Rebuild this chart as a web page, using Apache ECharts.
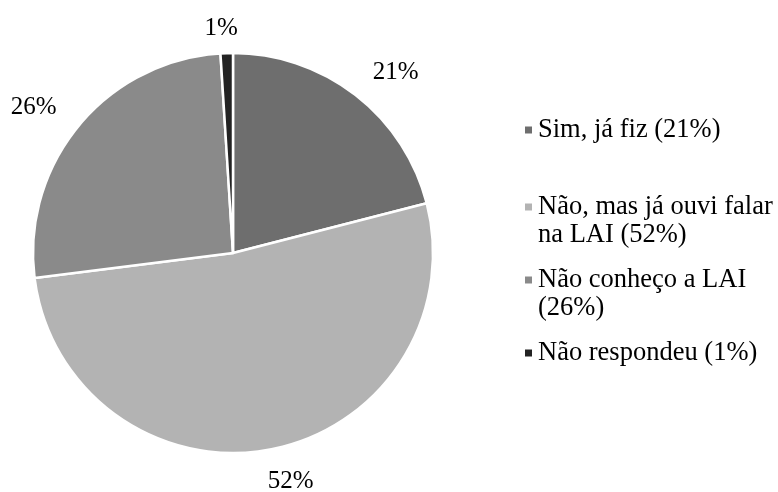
<!DOCTYPE html>
<html>
<head>
<meta charset="utf-8">
<script src="https://cdn.jsdelivr.net/npm/echarts@6/dist/echarts.min.js"></script>
<style>
  html, body { margin: 0; padding: 0; background: #fff; }
  #chart { width: 778px; height: 492px; }
</style>
</head>
<body>
<div id="chart"></div>
<script>
  // data
  var categories = ['Sim, já fiz', 'Não, mas já ouvi falar na LAI', 'Não conheço a LAI', 'Não respondeu']
  var legendLabels = ['Sim, já fiz (21%)', 'Não, mas já ouvi falar\nna LAI (52%)', 'Não conheço a LAI\n(26%)', 'Não respondeu (1%)']
  var values = [21, 52, 26, 1]
  var colors = ['#6e6e6e', '#b3b3b3', '#8a8a8a', '#232323']

  var font = 'Liberation Serif'
  // label distance from the rim, and horizontal nudge
  var labelLen = [28, 33, 29, 25]
  var labelLen2 = [-5, -14, -5, -17]
  var legendTops = [116, 165, 238, 339]

  var chart = echarts.init(document.getElementById('chart'))

  var legends = categories.map(function(name, i) {
    var twoLines = legendLabels[i].indexOf('\n') > -1
    return {
      show: true,
      left: 523,
      top: legendTops[i],
      padding: 0,
      itemWidth: 9,
      itemHeight: 9,
      icon: 'rect',
      selectedMode: false,
      formatter: function() {
        // leading empty line keeps the marker beside the first line
        return twoLines ? '\n' + legendLabels[i] : legendLabels[i]
      },
      textStyle: {
        fontFamily: font,
        fontSize: 26.5,
        lineHeight: 28,
        color: '#000'
      },
      data: [name]
    }
  })

  var option = {
    animation: false,
    color: colors,
    legend: legends,
    series: [{
      type: 'pie',
      center: [233, 253],
      radius: 200,
      startAngle: 90,
      clockwise: true,
      avoidLabelOverlap: false,
      itemStyle: {
        borderColor: '#fff',
        borderWidth: 2.5
      },
      label: {
        show: true,
        position: 'outside',
        formatter: '{c}%',
        fontFamily: font,
        fontSize: 25,
        color: '#000'
      },
      labelLine: {
        show: false
      },
      data: categories.map(function(name, i) {
        return {
          name: name,
          value: values[i],
          labelLine: { length: labelLen[i], length2: labelLen2[i] }
        }
      })
    }]
  }

  chart.setOption(option)
</script>
</body>
</html>
